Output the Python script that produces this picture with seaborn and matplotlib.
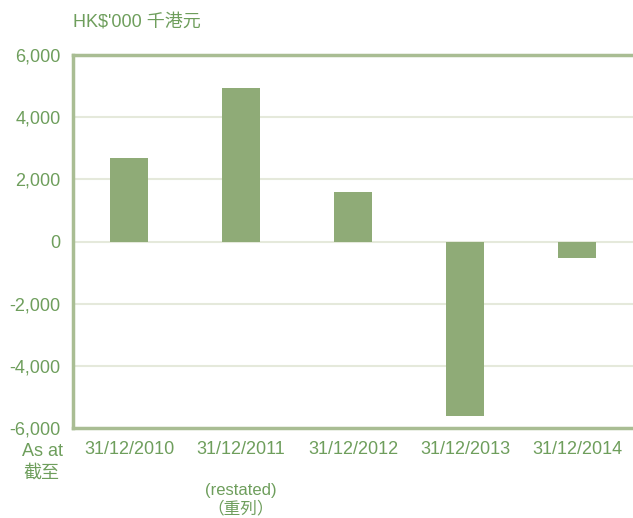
import matplotlib
matplotlib.use("Agg")
import matplotlib.pyplot as plt
import seaborn as sns
import pandas as pd

categories = ["31/12/2010", "31/12/2011", "31/12/2012", "31/12/2013", "31/12/2014"]
values = [2700, 4950, 1600, -5600, -520]
yticks = [-6000, -4000, -2000, 0, 2000, 4000, 6000]
ytick_labels = ["-6,000", "-4,000", "-2,000", "0", "2,000", "4,000", "6,000"]

sns.set_style("white")
plt.rcParams['font.family'] = ['Liberation Sans', 'Noto Sans CJK TC', 'DejaVu Sans']

TXT = "#6E9E5C"
BAR = "#8FAB77"
SPINE = "#A9BD93"
GRID = "#E5E9DB"
FS = 13

df = pd.DataFrame({"date": categories, "value": values})

fig = plt.figure(figsize=(6.33, 5.18), dpi=100)
ax = fig.add_axes([73/633, 1-428/518, 1-73/633, (428-55)/518])

sns.barplot(data=df, x="date", y="value", color=BAR, width=0.34, saturation=1,
            linewidth=0, edgecolor=BAR, ax=ax, zorder=3)

ax.set_xlim(-0.5, 4.5)
ax.set_ylim(-6000, 6000)
ax.set_yticks(yticks)
ax.set_yticklabels(ytick_labels, color=TXT, fontsize=FS)
ax.set_xticks(range(len(categories)))
ax.set_xticklabels(categories, color=TXT, fontsize=FS)
ax.tick_params(axis='both', length=0)
ax.tick_params(axis='y', pad=9)
ax.tick_params(axis='x', pad=9)
ax.set_xlabel("")
ax.set_ylabel("")

for y in yticks[1:-1]:
    ax.axhline(y, color=GRID, lw=1.5, zorder=1)

for s in ["left", "bottom", "top"]:
    ax.spines[s].set_color(SPINE)
    ax.spines[s].set_linewidth(2.5)
ax.spines["right"].set_visible(False)

fig.text(73/633, 1-22/518, "HK$'000 千港元", color=TXT, fontsize=FS, va="center", ha="left")
fig.text(63/633, 1-451/518, "As at", color=TXT, fontsize=FS, va="center", ha="right")
fig.text(59/633, 1-473/518, "截至", color=TXT, fontsize=FS, va="center", ha="right")
fig.text(241/633, 1-490/518, "(restated)", color=TXT, fontsize=12, va="center", ha="center")
fig.text(241/633, 1-508/518, "（重列）", color=TXT, fontsize=12, va="center", ha="center")

fig.savefig("out.png", dpi=100)
